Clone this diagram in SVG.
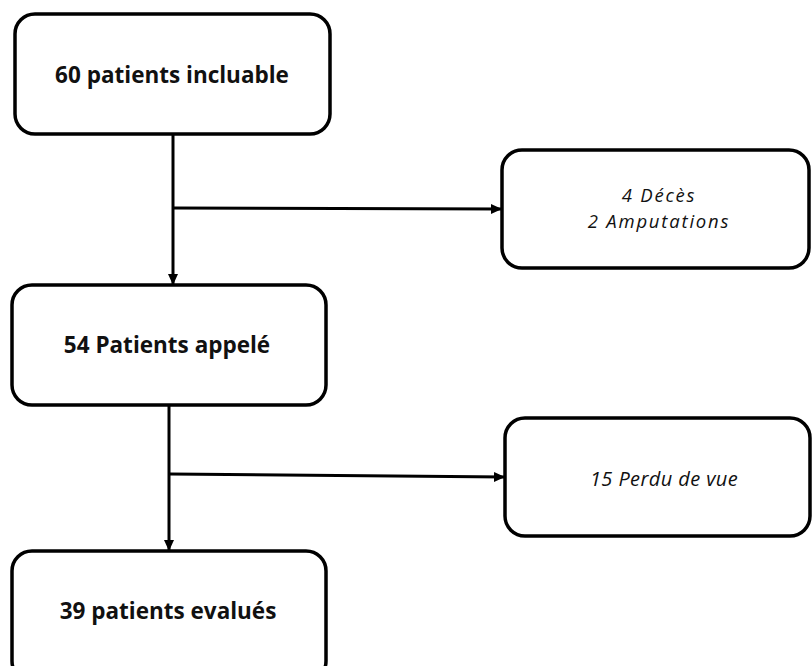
<svg xmlns="http://www.w3.org/2000/svg" width="812" height="666" viewBox="0 0 812 666">
<style>
.box{fill:#fff;stroke:#000;stroke-width:3.5}
.b{font-family:"Open Sans","Liberation Sans",sans-serif;font-weight:bold;font-size:22.5px;fill:#111;text-anchor:middle}
.i{font-family:"Open Sans","Liberation Sans",sans-serif;font-style:italic;font-size:18.5px;letter-spacing:1.8px;fill:#111;text-anchor:middle}
.i2{font-size:20px;letter-spacing:0.4px}
.ln{stroke:#000;stroke-width:3;fill:none}
</style>
<defs>
<marker id="ah" markerUnits="userSpaceOnUse" markerWidth="12" markerHeight="12" viewBox="0 0 12 12" refX="11" refY="6" orient="auto">
<path d="M0,1 L11,6 L0,11 z" fill="#000"/>
</marker>
</defs>
<rect width="812" height="666" fill="#fff"/>
<g id="connectors">
<line class="ln" x1="173" y1="134" x2="173" y2="285" marker-end="url(#ah)"/>
<line class="ln" x1="174" y1="208" x2="502" y2="209" marker-end="url(#ah)"/>
<line class="ln" x1="169" y1="405" x2="169" y2="551" marker-end="url(#ah)"/>
<line class="ln" x1="170" y1="474" x2="505" y2="477" marker-end="url(#ah)"/>
</g>
<g id="n1"><rect class="box" x="15" y="14" width="315" height="120" rx="20"/><text class="b" x="172" y="83">60 patients incluable</text></g>
<g id="n2"><rect class="box" x="502" y="150" width="307" height="118" rx="20"/><text class="i" x="659" y="202">4 Décès</text><text class="i" x="659" y="228">2 Amputations</text></g>
<g id="n3"><rect class="box" x="12" y="285" width="314" height="120" rx="20"/><text class="b" x="167" y="353">54 Patients appelé</text></g>
<g id="n4"><rect class="box" x="505" y="418" width="305" height="118" rx="20"/><text class="i i2" x="664" y="486">15 Perdu de vue</text></g>
<g id="n5"><rect class="box" x="12" y="551" width="314" height="130" rx="20"/><text class="b" x="168" y="619">39 patients evalués</text></g>
</svg>
